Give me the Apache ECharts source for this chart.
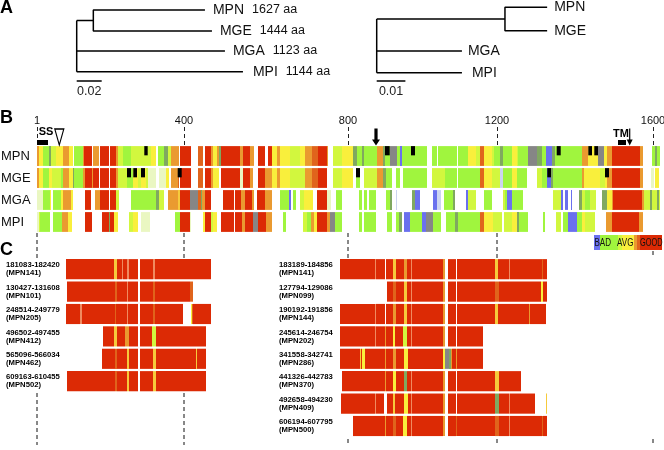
<!DOCTYPE html>
<html><head><meta charset="utf-8">
<style>html,body{margin:0;padding:0;background:#fff}#c{width:664px;height:450px;filter:blur(0.4px)}</style>
<script src="https://cdn.jsdelivr.net/npm/echarts@6/dist/echarts.min.js"></script>
</head><body><div id="c"></div>
<script>
const tipNames = ['MPN','MGE','MGA','MPI'];
const tipAA = ['1627 aa','1444 aa','1123 aa','1144 aa'];
const treeALen = [0.1026,0.1082,0.1186,0.133];
const treeARow = [0.5,1.55,2.55,3.585];
const treeANode = 0.0133;
const treeAScale = 0.02;
const treeBLen = [0.0594,0.0594,0.0297,0.0297];
const treeBRow = [0.365,1.535,2.55,3.635];
const treeBNode = 0.0447;
const treeBScale = 0.01;

const tickCols = [0,147,311,460,616];
const tickLabels = ['1','400','800','1200','1600'];

const palette = {r:'#dc2a05',d:'#e0641c',o:'#ea9a30',f:'#f6ca3c',y:'#f9ef3c',l:'#d2f73e',g:'#a0f53e',m:'#80a860',b:'#6a70ee',a:'#868686',p:'#eaf7c2',c:'#ccd4f0',q:'#f08a60'};

const mpnRuns = 'o1.7 y6.3 g12.3 m14.3 l19 y25.7 o32.3 y35.7 w37.3 g45.7 o47.3 r54.7 w56.3 o62.3 w63.3 r72.3 w73 r79 o81.3 l86.3 g94 l114 y119 w121.3 g127.3 m130.7 l134 o142.3 w143.3 r154 w161.3 d166.3 w168 r173.7 o175.7 y179.7 o182.3 m184 r195.7 w196.3 r203 o206.3 r213 o217 w220.7 r228 w231.3 r235.3 y240.3 o243 y253 l263 y268 o275.3 d280.7 r289.7 o291.3 w295.7 l304.7 y316.3 m319.7 g324.7 m326.7 g340.3 o346.3 m348 g353 a359.7 g363 b365.3 g389.7 w395.3 g399.7 w401 g419.7 w420.7 g431.3 y438.7 l443 d447.3 y454.7 l456.7 g463 m465.7 g474.7 y479.7 l481.3 g491.3 a500.3 m504.7 g509 b514.7 m518 g544.7 o551.3 y561.3 a567 y569.7 o574.7 r603 o606.3 w614.7 g618 m620 g623'.split(' ');
const mgeRuns = 'o1.7 y6.3 g12.3 y15 l24 g25.7 o32.3 y35.7 m37.3 g45.7 o48 r54.7 o56.3 r62.3 w63.3 r72.3 w73 r79 o81.3 l89.7 g96.3 y100.7 l104 y109 l111.3 p119 w121.7 p129 y132.3 w134 o141 d142.3 w143.3 r154 w161.3 d165.7 w168 r173.7 o176 y182 w184 r195.7 w196.3 r203 p206.3 r213 o216.3 w220.7 r228 o235.3 y240.3 o243 y253 l268 o274.7 d280.7 r289.7 w295.7 l304.7 y316.3 w319 g323 w326.7 l339.7 o346.3 m348.7 g354.7 w359 g363 w366.3 g389.7 w395.3 l408 g419.7 w420.7 g443 d447.3 y454.7 l463 c465.7 g474.7 y479.7 g489.7 w500.3 l504.7 g509.7 b514 m516 g544.7 o547 y563 l568 y570 o574.7 r603 o606.3 w613.7 p617 w618 y622.3'.split(' ');
const mgaRuns = 'p5.7 g13 y14.3 w15.7 g24 y26.3 o34 y35.7 w48 r54 w58.3 o63 r72.3 w73 r79 l82.3 w94 g119 m122.3 l127.3 w130.7 o140.7 f143 r153 a161.3 d163.7 m165.3 o168 r173.7 w185.7 r197 w198 r203.7 o208 r215.3 o217 w220.3 r228 o235.3 w243 g252.3 b254 w255.7 g259 w263 l267 y276.3 w280.3 r289.7 p293.7 w299 g305 w322 g324.7 w327 g329.7 w332 g339 w348.7 g353 m354.7 w359 c360 w374.7 m378 b383 w396.3 b399.7 c404 w407.3 g416.3 m418 w428.7 b430.7 l438.7 w446.7 g455.3 w465.7 l468 g470.3 b474.7 g486.3 w516.3 l524 b525.7 w528 b530.7 w534 b535 w542.3 m544.7 l548 g553 l559 w564.7 m569.7 y575 o575.7 r604.7 o607 l613 m614.7 l620 m621.7 l623'.split(' ');
const mpiRuns = 'p2.3 l3 g13 w15.7 g25 o30.7 y35 w48 r54.7 w65 r71.7 m73.3 r77.3 y80.7 w91.7 l95.7 y100.7 w104 p113 w138.3 g143 r153 p154.5 w165.7 y168 r173.7 l175.7 y180.3 w184 r197 w198 r204.7 o208 r216.3 a220.7 r229 o235 w245.7 g249 w266.3 l269.7 g273.7 o277 y280.3 r289.7 o293 a298.3 g305 w322 g324.7 w327 g338.7 w349.7 g354.7 w358.7 g362 m365.3 w367 b373 g385.3 b389 a396.3 g404 w408.7 g418 m420.7 g443 d447 y456.3 l464.7 w467 l475 y479.7 m482.3 g491.3 w505.7 g508 w519 l524 w526.3 g531 b540.3 g544.7 y548 l558 w569 o574.7 r602.3 o606.3'.split(' ');

const blackMarks = [[107.3,110.7,0],[348,352.7,0],[374,378,0],[519.7,523.7,0],[551.3,555,0],[557.3,561,0],
  [90,94,1],[96.3,100,1],[104,108,1],[140.7,144.7,1],[319,323,1],[510.3,514,1],[568,572,1]];

const cLeftNames = ['181083-182420\n(MPN141)','130427-131608\n(MPN101)','248514-249779\n(MPN205)','496502-497455\n(MPN412)','565096-566034\n(MPN462)','609163-610455\n(MPN502)'];
const cl1 = 'w29 r77 f79.7 r85 q85.7 r89.7 q91.7 r101.3 w103.3 r115.7 q118 r173.7'.split(' ');
const cl2 = 'w30 r78 d79.7 r89.7 q91 r101.3 w102.7 r115.7 d118 r153 d156.3'.split(' ');
const cl3 = 'w29 r43 q45 r78 d79 r89.7 q91 r101.3 w103.3 r115.7 d117.5 r145.7 w153.7 y155 d156.3 r173.7'.split(' ');
const cl4 = 'w65.7 r77 f79.7 r88.3 o91.7 r101.3 w103.3 r115 l118.7 r169'.split(' ');
const cl5 = 'w65 r78 d79.7 r89.7 f92 r101.3 w103.3 r116.3 f118.7 r158.7 f160 r169'.split(' ');
const cl6 = 'w30 r78 d79.7 r89.7 f92 r101.3 w102.7 r116.3 f118.7 r169'.split(' ');

const cRightNames = ['183189-184856\n(MPN141)','127794-129086\n(MPN099)','190192-191856\n(MPN144)','245614-246754\n(MPN202)','341558-342741\n(MPN286)','441326-442783\n(MPN370)','492658-494230\n(MPN409)','606194-607795\n(MPN500)'];
const cr1 = 'w303 r338.3 q339.3 r348 w349 r355.7 f358.7 r367.3 o370 r373.7 q374.5 r405.7 o407.5 w411 r419 w420 r458 f461 r472.3 q473.3 r505.3 d506 r509.7'.split(' ');
const cr2 = 'w350.3 r355.7 d358.7 r367.3 f370 r373.7 q374.5 r405.7 o408 w411 r419 w420 r458 d461.5 r503.7 y506.3 r509.7'.split(' ');
const cr3 = 'w303 r338.3 q339.3 r348 w349 r355.7 o358.7 r367.3 f370 r373.7 q374.5 r405.7 o408 w411 r419 w420 r458 f461 r492.3 o493.3 r509'.split(' ');
const cr4 = 'w303 r338.3 q339.3 r347.7 o349 r355.7 y358 r365.7 l370 r373.7 q374.5 r405.7 o408 w411 r419 w420 r445.7'.split(' ');
const cr5 = 'w303 r322.5 f324.3 r325 y328 r348 o349 r355.7 o358.7 r367 y370.7 r405.7 y408.3 a412 m413.7 o415 r419 o420 r445.7'.split(' ');
const cr6 = 'w305 r347.7 o349 r356 y358.5 r367.3 m370 r373.7 q374.5 r405.7 o408 w411 r419 w420 r458 f461.5 r484'.split(' ');
const cr7 = 'w304 r338.3 q339.3 r347.3 w350.3 r355.7 f358 r367.3 y370.7 r373.7 q374.5 r405.7 o408 w411 r419 w420 r458 m461.5 r472.3 q473.3 r497.7 w508.7 f509.7'.split(' ');
const cr8 = 'w316 r347.7 o349 r355.7 d358.7 r366 y370 r373.7 q374.5 r405.7 o408 w411 r419 d420 r458 d461.5 r472.3 q473.3 r505.3 d506 r509.7'.split(' ');

const legendRuns = 'w557 b562.5 g581 l585 y597 o600 d603 r625'.split(' ');

function runsToRects(runs,row){
  const out=[];let s=0;
  runs.forEach(t=>{const c=t[0],e=+t.slice(1);if(c!=='w')out.push([s,e,row,palette[c]]);s=e;});
  return out;
}
function renderStrip(frac){
  return function(p,api){
    const a=api.coord([api.value(0),api.value(2)]);
    const b=api.coord([api.value(1),api.value(2)]);
    const h=api.size([0,1])[1]*frac;
    const x0=Math.round(a[0]);let x1=Math.round(b[0]);if(x1<=x0)x1=x0+1;
    return {type:'rect',shape:{x:x0,y:a[1]-h/2,width:x1-x0,height:h},style:{fill:api.value(3)}};
  };
}
function renderMark(p,api){
  const a=api.coord([api.value(0),api.value(2)]);
  const b=api.coord([api.value(1),api.value(2)]);
  const band=api.size([0,1])[1];
  return {type:'rect',shape:{x:a[0],y:a[1]-band*0.45,width:b[0]-a[0],height:band*0.42},style:{fill:'#000'}};
}
function renderDomain(p,api){
  const a=api.coord([api.value(0),api.value(2)]);
  const b=api.coord([api.value(1),api.value(3)]);
  return {type:'rect',shape:{x:a[0],y:a[1],width:b[0]-a[0],height:b[1]-a[1]},style:{fill:'#000'}};
}
const FONT='"Liberation Sans",Arial,sans-serif';
const hidden={show:false};
function hx(i,min,max,extra){return Object.assign({type:'value',gridIndex:i,min,max,axisLine:hidden,axisTick:hidden,axisLabel:hidden,splitLine:hidden},extra||{});}
function hy(i,min,max){return {type:'value',gridIndex:i,min,max,inverse:true,axisLine:hidden,axisTick:hidden,axisLabel:hidden,splitLine:hidden};}
function catY(i,data,label){return {type:'category',gridIndex:i,data,inverse:true,axisLine:hidden,axisTick:hidden,splitLine:hidden,axisLabel:label};}

const grid=[
 {left:76.7,top:0,width:200,height:110},
 {left:376.7,top:0,width:200,height:110},
 {left:1,top:145,width:663,height:88},
 {left:6,top:258,width:200,height:134.4},
 {left:279,top:258,width:385,height:179.2},
 {left:1,top:235,width:663,height:15},
 {left:1,top:0,width:663,height:450}
].map(g=>Object.assign(g,{outerBoundsMode:'none',containLabel:false}));
const xAxis=[
 hx(0,0,0.16),hx(1,0,0.0697),
 {type:'value',gridIndex:2,min:-36,max:627,position:'top',splitLine:hidden,axisLine:hidden,
  axisTick:{show:true,customValues:tickCols,length:18,lineStyle:{type:[4,3],color:'#222',width:1}},
  axisLabel:{show:true,customValues:tickCols,margin:19,fontFamily:FONT,fontSize:11,color:'#111',hideOverlap:false,formatter:v=>tickLabels[tickCols.indexOf(v)]||''}},
 hx(3,-31,169),hx(4,242,627),hx(5,-36,627),hx(6,-36,627)
];
const cLabel={show:true,align:'left',margin:0,fontFamily:FONT,fontSize:7.7,fontWeight:'bold',lineHeight:8,color:'#000',padding:[2,0,0,0]};
const yAxis=[
 hy(0,0,5.5),hy(1,0,5.5),
 catY(2,tipNames,{show:true,align:'left',margin:0,fontFamily:FONT,fontSize:13,color:'#111'}),
 catY(3,cLeftNames,cLabel),
 catY(4,cRightNames,cLabel),
 {type:'category',gridIndex:5,data:['legend'],axisLine:hidden,axisTick:hidden,axisLabel:hidden,splitLine:hidden},
 hy(6,0,450)
];
function treeLines(lens,rows,node,scale){
  const rootY=(rows[0]+rows[1])/2, gap=[null,null];
  return [
    [0,rootY],[0,rows[3]],gap,
    [0,rootY],[node,rootY],gap,
    [lens[0],rows[0]],[node,rows[0]],[node,rows[1]],[lens[1],rows[1]],gap,
    [0,rows[2]],[lens[2],rows[2]],gap,
    [0,rows[3]],[lens[3],rows[3]],gap,
    [0,4.05],[scale,4.05]
  ];
}
const opaque={opacity:1};
function treeSeries(i,lens,rows,node,scale,withAA,gaps){
  return [
   {type:'line',xAxisIndex:i,yAxisIndex:i,symbol:'none',silent:true,connectNulls:false,clip:false,data:treeLines(lens,rows,node,scale),lineStyle:{color:'#000',width:1.5}},
   {type:'scatter',xAxisIndex:i,yAxisIndex:i,symbolSize:0,silent:true,clip:false,itemStyle:opaque,
    data:tipNames.map((n,k)=>({value:[lens[k],rows[k]],label:{distance:gaps[k]}})),
    label:{show:true,position:'right',color:'#111',fontFamily:FONT,
     formatter:p=>withAA?`{n|${tipNames[p.dataIndex]}}{a|${tipAA[p.dataIndex]}}`:`{n|${tipNames[p.dataIndex]}}`,
     rich:{n:{fontSize:14,fontFamily:FONT,color:'#111'},a:{fontSize:12.5,fontFamily:FONT,color:'#111',padding:[0,0,0,8]}}}},
   {type:'scatter',xAxisIndex:i,yAxisIndex:i,symbolSize:0,silent:true,clip:false,itemStyle:opaque,
    data:[[scale/2,4.58]],label:{show:true,position:'inside',formatter:String(scale),fontFamily:FONT,fontSize:12.5,color:'#222'}}
  ];
}
function strip(i,rows,frac){
  return {type:'custom',xAxisIndex:i,yAxisIndex:i,silent:true,clip:false,renderItem:renderStrip(frac),
    encode:{x:[0,1],y:2},
    data:rows.flatMap((r,k)=>runsToRects(r,k))};
}
const dashMid=[[233,258,[0,147,311,460]],[251,258,[616]],[393,445,[0,147]],[439,445,[311,460,616]]];
const dashData=[];
dashMid.forEach(([a,b,cols])=>cols.forEach(c=>{dashData.push([c,a],[c,b],[null,null]);}));

const series=[
 ...treeSeries(0,treeALen,treeARow,treeANode,treeAScale,true,[8,8,8,10]),
 ...treeSeries(1,treeBLen,treeBRow,treeBNode,treeBScale,false,[7,7,6,10]),
 strip(2,[mpnRuns,mgeRuns,mgaRuns,mpiRuns],0.9),
 {type:'custom',xAxisIndex:2,yAxisIndex:2,silent:true,clip:false,renderItem:renderMark,encode:{x:[0,1],y:2},z:3,data:blackMarks},
 strip(3,[cl1,cl2,cl3,cl4,cl5,cl6],0.9),
 strip(4,[cr1,cr2,cr3,cr4,cr5,cr6,cr7,cr8],0.9),
 {type:'custom',xAxisIndex:5,yAxisIndex:5,silent:true,renderItem:renderStrip(1),encode:{x:[0,1],y:2},data:runsToRects(legendRuns,0)},
 {type:'line',xAxisIndex:6,yAxisIndex:6,symbol:'none',silent:true,connectNulls:false,data:dashData,lineStyle:{color:'#111',width:1,type:[4,3]}},
 {type:'custom',xAxisIndex:6,yAxisIndex:6,silent:true,renderItem:renderDomain,encode:{x:[0,1],y:[2,3]},data:[[0,11,140,145],[581,589,140,145]]},
 {type:'scatter',xAxisIndex:6,yAxisIndex:6,symbol:'triangle',symbolRotate:180,symbolSize:[9,16],silent:true,data:[[22.3,137]],itemStyle:{color:'#fff',borderColor:'#000',borderWidth:1.3,opacity:1}},
 {type:'scatter',xAxisIndex:6,yAxisIndex:6,symbol:'path://M3,0 L7,0 L7,11 L10,11 L5,17 L0,11 L3,11 Z',symbolSize:[8,17],silent:true,data:[[339,137]],itemStyle:{color:'#000',opacity:1}},
 {type:'scatter',xAxisIndex:6,yAxisIndex:6,symbol:'path://M4,0 L6,0 L6,11 L10,11 L5,17 L0,11 L4,11 Z',symbolSize:[6,17],silent:true,data:[[592.7,137]],itemStyle:{color:'#000',opacity:1}},
 {type:'scatter',xAxisIndex:6,yAxisIndex:6,symbolSize:0,silent:true,itemStyle:opaque,
  data:[{value:[9,132],name:'SS'},{value:[584,134],name:'TM'}],
  label:{show:true,position:'inside',formatter:'{b}',fontFamily:FONT,fontWeight:'bold',fontSize:11,color:'#000'}}
];
const letters=[['A',8.5],['B',118],['C',250]];
const legendWords=[['BAD',594.5,0.7],['AVG',617,0.7],['GOOD',640,0.64]];
const chart=echarts.init(document.getElementById('c'),null,{renderer:'canvas'});
chart.setOption({animation:false,backgroundColor:'#fff',grid,xAxis,yAxis,series,
 graphic:[
  ...letters.map(([t,y])=>({type:'text',x:0,y:y,silent:true,style:{text:t,fontFamily:FONT,fontWeight:'bold',fontSize:18,fill:'#000',verticalAlign:'middle'}})),
  ...legendWords.map(([t,x,s])=>({type:'text',x:x,y:243,scaleX:s,silent:true,z:10,style:{text:t,fontFamily:FONT,fontSize:11.5,fill:'#111',verticalAlign:'middle'}}))
 ]});
</script></body></html>
